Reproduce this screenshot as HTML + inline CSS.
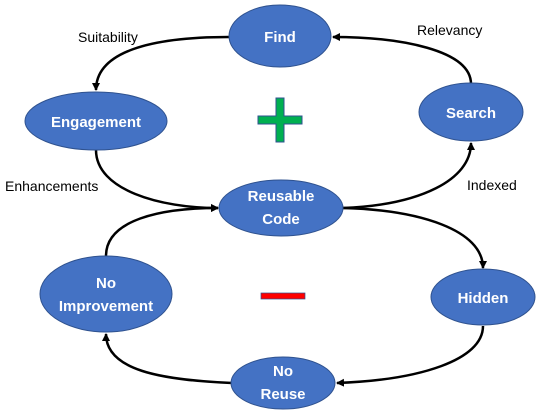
<!DOCTYPE html>
<html><head><meta charset="utf-8"><style>
html,body{margin:0;padding:0;background:#fff;width:540px;height:410px;overflow:hidden}
svg text{font-family:"Liberation Sans",sans-serif}
</style></head><body>
<svg width="540" height="410" viewBox="0 0 540 410">
<defs><marker id="a" markerWidth="8" markerHeight="8" refX="7" refY="4" orient="auto" markerUnits="userSpaceOnUse"><path d="M0,0 L8,4 L0,8 Z" fill="#000"/></marker></defs>
<g fill="none" stroke="#000" stroke-width="2.5">
<path d="M229,37 C150,37 96,52 96,90" marker-end="url(#a)"/>
<path d="M471,84 C471,50 400,37 333,37" marker-end="url(#a)"/>
<path d="M343,208 C420,205 471,180 471,143" marker-end="url(#a)"/>
<path d="M343,208 C420,210 483,230 483,268" marker-end="url(#a)"/>
<path d="M483,326 C483,360 420,380 337,383" marker-end="url(#a)"/>
<path d="M232,383 C160,380 106,370 106,334" marker-end="url(#a)"/>
<path d="M106,256 C106,220 160,208 218,208" marker-end="url(#a)"/>
<path d="M96,150 C96,190 160,208 218,208" marker-end="url(#a)"/>
</g>
<g fill="#4472c4" stroke="#2f528f" stroke-width="1">
<ellipse cx="280" cy="36" rx="51" ry="31"/>
<ellipse cx="471" cy="112" rx="52" ry="29"/>
<ellipse cx="96" cy="121" rx="71" ry="29"/>
<ellipse cx="281" cy="208" rx="62" ry="28"/>
<ellipse cx="106" cy="294" rx="66" ry="38"/>
<ellipse cx="483" cy="297" rx="52" ry="28"/>
<ellipse cx="283" cy="383" rx="52" ry="26"/>
</g>
<g fill="#fff" font-size="15" font-weight="bold" text-anchor="middle">
<text x="280" y="42">Find</text>
<text x="471" y="118">Search</text>
<text x="96" y="127">Engagement</text>
<text x="281" y="201">Reusable</text>
<text x="281" y="224">Code</text>
<text x="106" y="288">No</text>
<text x="106" y="311">Improvement</text>
<text x="483" y="303">Hidden</text>
<text x="283" y="376">No</text>
<text x="283" y="399">Reuse</text>
</g>
<g fill="#000" font-size="14">
<text x="78" y="42">Suitability</text>
<text x="417" y="35">Relevancy</text>
<text x="5" y="191">Enhancements</text>
<text x="467" y="190">Indexed</text>
</g>
<path d="M276,98 H284 V116 H302 V124 H284 V142 H276 V124 H258 V116 H276 Z" fill="#00b050" stroke="#2f528f" stroke-width="1"/>
<rect x="261" y="293" width="44" height="6" fill="#ff0000" stroke="#2f528f" stroke-width="0.7"/>
</svg>
</body></html>
